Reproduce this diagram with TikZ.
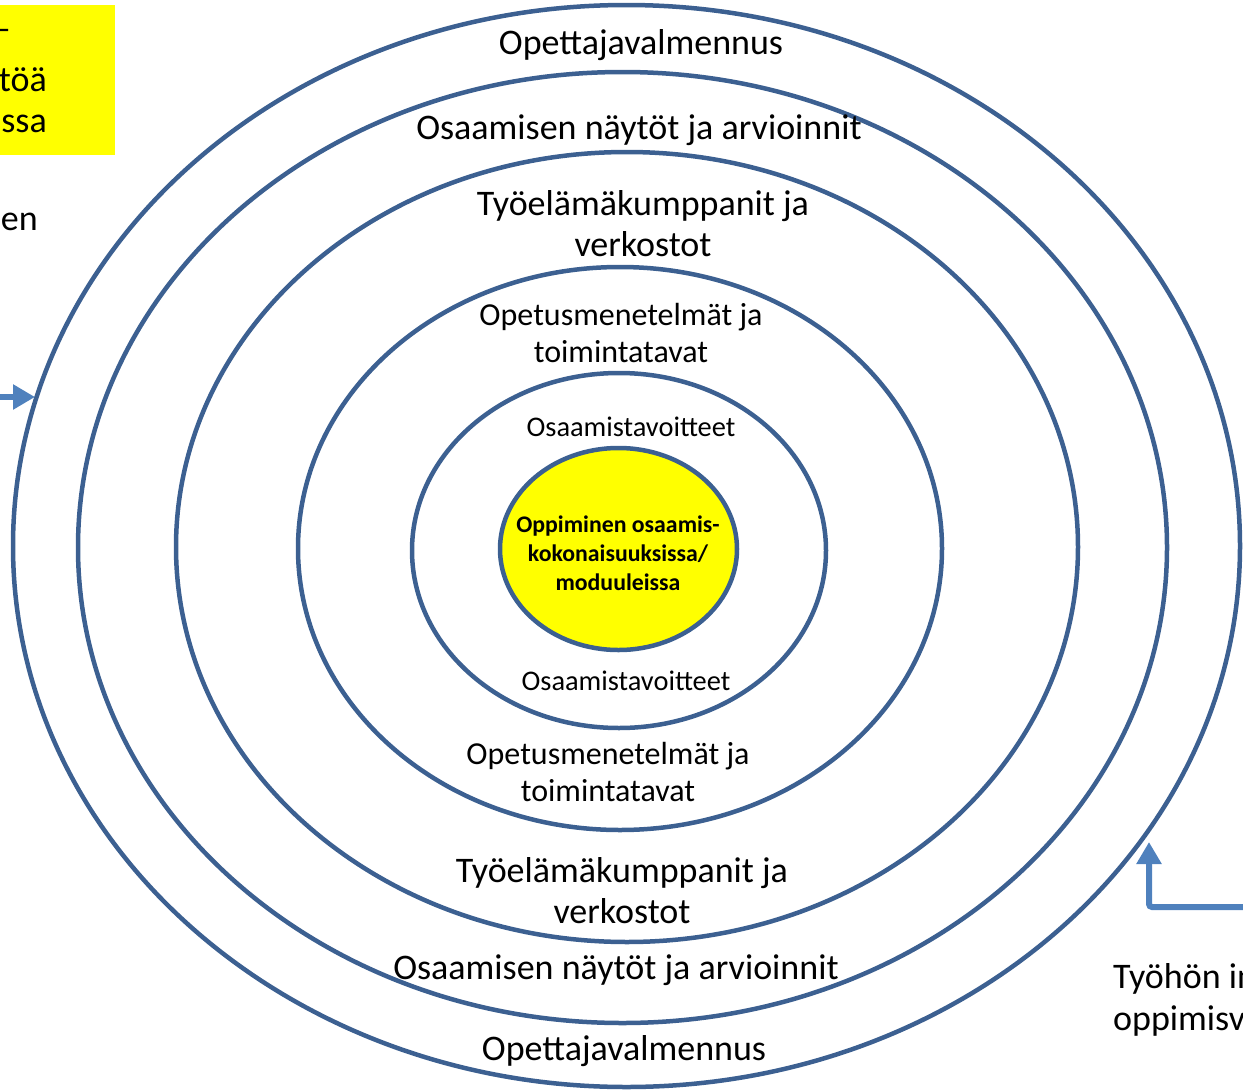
\documentclass[tikz,border=0pt]{standalone}
\usepackage{fontspec}
\setmainfont{Carlito}
\usetikzlibrary{shapes.geometric,arrows.meta}
\definecolor{ringblue}{RGB}{60,96,145}
\definecolor{arrowblue}{RGB}{79,129,189}
\definecolor{noteyellow}{RGB}{255,255,0}
\tikzset{
  ring/.style={ellipse, draw=ringblue, line width=4.5pt, inner sep=0pt, outer sep=0pt},
  lbl/.style={text=black, inner sep=0pt, align=center},
  big/.style={lbl, font=\fontsize{36}{41}\selectfont},
  mid/.style={lbl, font=\fontsize{32}{37}\selectfont},
  small/.style={lbl, font=\fontsize{28.4}{30}\selectfont},
  core/.style={lbl, font=\bfseries\fontsize{23.8}{29}\selectfont},
  flow/.style={draw=arrowblue, line width=6pt, -{Triangle[length=22pt,width=24pt]}},
}
\begin{document}
\begin{tikzpicture}[x=1pt,y=-1pt]
\useasboundingbox (0,0) rectangle (1243,1090);
\clip (0,0) rectangle (1243,1090);
% yellow note box (cut off at left)
\node[fill=noteyellow, minimum width=115pt, minimum height=150pt, anchor=north west, inner sep=0pt] (note) at (0,5) {};
\node[big, anchor=east] (n1) at (11,35) {–};
\node[big, anchor=east] (n2) at (47,80) {töä};
\node[big, anchor=east] (n3) at (47,124) {essa};
\node[big, anchor=east] (en) at (38,222) {en};
% rings
\node[ring, minimum width=1227pt, minimum height=1082pt] (r1) at (626.5,546) {};
\node[ring, minimum width=1089pt, minimum height=951pt] (r2) at (622.5,547.5) {};
\node[ring, minimum width=902pt, minimum height=790pt] (r3) at (627,547) {};
\node[ring, minimum width=644pt, minimum height=563pt] (r4) at (620,548.5) {};
\node[ring, minimum width=414pt, minimum height=355pt] (r5) at (619,550.5) {};
\node[ring, fill=noteyellow, minimum width=237pt, minimum height=202pt] (r6) at (618.5,549) {};
% labels
\node[big] (t1) at (641,45) {Opettajavalmennus};
\node[big] (t2) at (639,130) {Osaamisen näytöt ja arvioinnit};
\node[big] (t3) at (643,224) {Työelämäkumppanit ja\\verkostot};
\node[mid] (t4) at (621,333) {Opetusmenetelmät ja\\toimintatavat};
\node[small] (t5) at (631,427) {Osaamistavoitteet};
\node[core] (t6) at (618,553) {Oppiminen osaamis-\\kokonaisuuksissa/\\moduuleissa};
\node[small] (t7) at (626,681) {Osaamistavoitteet};
\node[mid] (t8) at (608,772) {Opetusmenetelmät ja\\toimintatavat};
\node[big] (t9) at (622,891) {Työelämäkumppanit ja\\verkostot};
\node[big] (t10) at (616,970) {Osaamisen näytöt ja arvioinnit};
\node[big] (t11) at (624,1051) {Opettajavalmennus};
% right bottom caption (cut off at right)
\node[big, anchor=west] (c1) at (1113,979) {Työhön in};
\node[big, anchor=west] (c2) at (1113,1021) {oppimisv};
% arrows
\coordinate (la) at (-10,397);
\coordinate (lb) at (35,397);
\draw[flow] (la) -- (lb);
\coordinate (ra) at (1260,907);
\coordinate (rc) at (1149,907);
\coordinate (rb) at (1149,842);
\draw[flow, rounded corners=3pt] (ra) -- (rc) -- (rb);
\end{tikzpicture}
\end{document}
